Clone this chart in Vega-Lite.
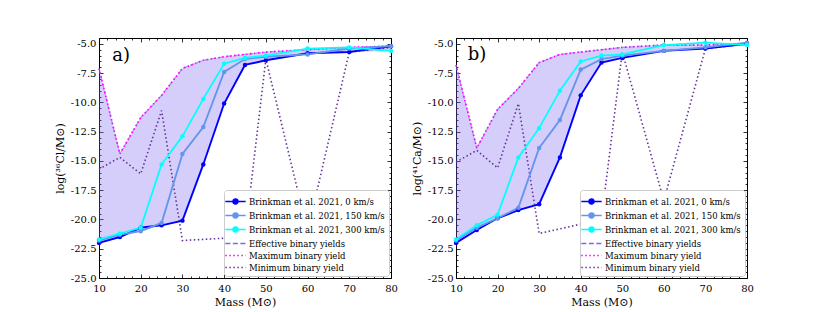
{
  "$schema": "https://vega.github.io/schema/vega-lite/v6.json",
  "background": "white",
  "padding": {"left": 53, "top": 37, "right": 5, "bottom": 5},
  "spacing": 12,
  "config": {
    "view": {"stroke": "black", "strokeWidth": 1},
    "axis": {"labelFont": "DejaVu Serif", "titleFont": "DejaVu Serif", "labelColor": "black", "titleColor": "black", "labelFontSize": 10, "titleFontSize": 11, "titleFontWeight": "normal", "grid": false, "domain": false, "tickColor": "black", "tickWidth": 0.8, "labelFlush": false, "labelOverlap": false},
    "legend": {"orient": "bottom-right", "offset": 2, "labelFont": "DejaVu Serif", "labelFontSize": 8.5, "labelColor": "black", "fillColor": "white", "strokeColor": "#cccccc", "cornerRadius": 3, "padding": 4, "symbolSize": 161, "symbolStrokeWidth": 1.5, "labelOffset": 6, "rowPadding": 0, "title": null}
  },
  "datasets": {
    "lines": [
      {"p":"a","s":"r0","m":10,"v":-22.0},{"p":"a","s":"r0","m":15,"v":-21.5},{"p":"a","s":"r0","m":20,"v":-20.7},{"p":"a","s":"r0","m":25,"v":-20.5},{"p":"a","s":"r0","m":30,"v":-20.1},{"p":"a","s":"r0","m":35,"v":-15.3},{"p":"a","s":"r0","m":40,"v":-10.1},{"p":"a","s":"r0","m":45,"v":-6.8},{"p":"a","s":"r0","m":50,"v":-6.4},{"p":"a","s":"r0","m":60,"v":-5.8},{"p":"a","s":"r0","m":70,"v":-5.7},{"p":"a","s":"r0","m":80,"v":-5.2},
      {"p":"a","s":"r150","m":10,"v":-21.8},{"p":"a","s":"r150","m":15,"v":-21.3},{"p":"a","s":"r150","m":20,"v":-21.0},{"p":"a","s":"r150","m":25,"v":-20.3},{"p":"a","s":"r150","m":30,"v":-14.4},{"p":"a","s":"r150","m":35,"v":-12.1},{"p":"a","s":"r150","m":40,"v":-7.4},{"p":"a","s":"r150","m":45,"v":-6.3},{"p":"a","s":"r150","m":50,"v":-6.1},{"p":"a","s":"r150","m":60,"v":-5.9},{"p":"a","s":"r150","m":70,"v":-5.4},{"p":"a","s":"r150","m":80,"v":-5.2},
      {"p":"a","s":"r300","m":10,"v":-21.7},{"p":"a","s":"r300","m":15,"v":-21.2},{"p":"a","s":"r300","m":20,"v":-20.7},{"p":"a","s":"r300","m":25,"v":-15.3},{"p":"a","s":"r300","m":30,"v":-12.9},{"p":"a","s":"r300","m":35,"v":-9.7},{"p":"a","s":"r300","m":40,"v":-6.7},{"p":"a","s":"r300","m":45,"v":-6.2},{"p":"a","s":"r300","m":50,"v":-6.0},{"p":"a","s":"r300","m":60,"v":-5.4},{"p":"a","s":"r300","m":70,"v":-5.3},{"p":"a","s":"r300","m":80,"v":-5.6},
      {"p":"a","s":"eff","m":10,"v":-7.1},{"p":"a","s":"eff","m":15,"v":-14.4},{"p":"a","s":"eff","m":20,"v":-11.3},{"p":"a","s":"eff","m":25,"v":-9.4},{"p":"a","s":"eff","m":30,"v":-7.1},{"p":"a","s":"eff","m":35,"v":-6.4},{"p":"a","s":"eff","m":40,"v":-6.1},{"p":"a","s":"eff","m":45,"v":-5.9},{"p":"a","s":"eff","m":50,"v":-5.7},{"p":"a","s":"eff","m":60,"v":-5.5},{"p":"a","s":"eff","m":70,"v":-5.3},{"p":"a","s":"eff","m":80,"v":-5.2},
      {"p":"a","s":"max","m":10,"v":-7.1},{"p":"a","s":"max","m":15,"v":-14.4},{"p":"a","s":"max","m":20,"v":-11.3},{"p":"a","s":"max","m":25,"v":-9.4},{"p":"a","s":"max","m":30,"v":-7.1},{"p":"a","s":"max","m":35,"v":-6.4},{"p":"a","s":"max","m":40,"v":-6.1},{"p":"a","s":"max","m":45,"v":-5.9},{"p":"a","s":"max","m":50,"v":-5.7},{"p":"a","s":"max","m":60,"v":-5.5},{"p":"a","s":"max","m":70,"v":-5.3},{"p":"a","s":"max","m":80,"v":-5.2},
      {"p":"a","s":"min","m":10,"v":-15.7},{"p":"a","s":"min","m":15,"v":-14.7},{"p":"a","s":"min","m":20,"v":-16.1},{"p":"a","s":"min","m":25,"v":-10.7},{"p":"a","s":"min","m":30,"v":-21.8},{"p":"a","s":"min","m":35,"v":-21.7},{"p":"a","s":"min","m":40,"v":-21.6},{"p":"a","s":"min","m":45,"v":-21.4},{"p":"a","s":"min","m":50,"v":-6.3},{"p":"a","s":"min","m":60,"v":-21.0},{"p":"a","s":"min","m":70,"v":-5.7},{"p":"a","s":"min","m":80,"v":-5.3},
      {"p":"b","s":"r0","m":10,"v":-22.0},{"p":"b","s":"r0","m":15,"v":-20.9},{"p":"b","s":"r0","m":20,"v":-19.9},{"p":"b","s":"r0","m":25,"v":-19.2},{"p":"b","s":"r0","m":30,"v":-18.7},{"p":"b","s":"r0","m":35,"v":-14.7},{"p":"b","s":"r0","m":40,"v":-9.4},{"p":"b","s":"r0","m":45,"v":-6.6},{"p":"b","s":"r0","m":50,"v":-6.2},{"p":"b","s":"r0","m":60,"v":-5.6},{"p":"b","s":"r0","m":70,"v":-5.4},{"p":"b","s":"r0","m":80,"v":-5.0},
      {"p":"b","s":"r150","m":10,"v":-21.8},{"p":"b","s":"r150","m":15,"v":-20.7},{"p":"b","s":"r150","m":20,"v":-19.9},{"p":"b","s":"r150","m":25,"v":-19.0},{"p":"b","s":"r150","m":30,"v":-13.9},{"p":"b","s":"r150","m":35,"v":-11.5},{"p":"b","s":"r150","m":40,"v":-7.2},{"p":"b","s":"r150","m":45,"v":-6.3},{"p":"b","s":"r150","m":50,"v":-6.0},{"p":"b","s":"r150","m":60,"v":-5.6},{"p":"b","s":"r150","m":70,"v":-5.3},{"p":"b","s":"r150","m":80,"v":-4.9},
      {"p":"b","s":"r300","m":10,"v":-21.7},{"p":"b","s":"r300","m":15,"v":-20.5},{"p":"b","s":"r300","m":20,"v":-19.6},{"p":"b","s":"r300","m":25,"v":-14.7},{"p":"b","s":"r300","m":30,"v":-12.2},{"p":"b","s":"r300","m":35,"v":-9.0},{"p":"b","s":"r300","m":40,"v":-6.5},{"p":"b","s":"r300","m":45,"v":-6.0},{"p":"b","s":"r300","m":50,"v":-5.9},{"p":"b","s":"r300","m":60,"v":-5.1},{"p":"b","s":"r300","m":70,"v":-4.9},{"p":"b","s":"r300","m":80,"v":-5.1},
      {"p":"b","s":"eff","m":10,"v":-6.8},{"p":"b","s":"eff","m":15,"v":-13.9},{"p":"b","s":"eff","m":20,"v":-10.6},{"p":"b","s":"eff","m":25,"v":-8.8},{"p":"b","s":"eff","m":30,"v":-6.6},{"p":"b","s":"eff","m":35,"v":-5.9},{"p":"b","s":"eff","m":40,"v":-5.7},{"p":"b","s":"eff","m":45,"v":-5.5},{"p":"b","s":"eff","m":50,"v":-5.3},{"p":"b","s":"eff","m":60,"v":-5.1},{"p":"b","s":"eff","m":70,"v":-5.1},{"p":"b","s":"eff","m":80,"v":-5.0},
      {"p":"b","s":"max","m":10,"v":-6.8},{"p":"b","s":"max","m":15,"v":-13.9},{"p":"b","s":"max","m":20,"v":-10.6},{"p":"b","s":"max","m":25,"v":-8.8},{"p":"b","s":"max","m":30,"v":-6.6},{"p":"b","s":"max","m":35,"v":-5.9},{"p":"b","s":"max","m":40,"v":-5.7},{"p":"b","s":"max","m":45,"v":-5.5},{"p":"b","s":"max","m":50,"v":-5.3},{"p":"b","s":"max","m":60,"v":-5.1},{"p":"b","s":"max","m":70,"v":-5.1},{"p":"b","s":"max","m":80,"v":-5.0},
      {"p":"b","s":"min","m":10,"v":-15.1},{"p":"b","s":"min","m":15,"v":-14.1},{"p":"b","s":"min","m":20,"v":-15.6},{"p":"b","s":"min","m":25,"v":-10.1},{"p":"b","s":"min","m":30,"v":-21.2},{"p":"b","s":"min","m":35,"v":-20.8},{"p":"b","s":"min","m":40,"v":-20.4},{"p":"b","s":"min","m":45,"v":-19.9},{"p":"b","s":"min","m":50,"v":-5.7},{"p":"b","s":"min","m":60,"v":-18.4},{"p":"b","s":"min","m":70,"v":-5.4},{"p":"b","s":"min","m":80,"v":-5.0}
    ],
    "band": [
      {"p":"a","m":10,"lo":-22.0,"hi":-7.1},{"p":"a","m":15,"lo":-21.5,"hi":-14.4},{"p":"a","m":20,"lo":-21.0,"hi":-11.3},{"p":"a","m":25,"lo":-20.5,"hi":-9.4},{"p":"a","m":30,"lo":-20.1,"hi":-7.1},{"p":"a","m":35,"lo":-15.3,"hi":-6.4},{"p":"a","m":40,"lo":-10.1,"hi":-6.1},{"p":"a","m":45,"lo":-6.8,"hi":-5.9},{"p":"a","m":50,"lo":-6.4,"hi":-5.7},{"p":"a","m":60,"lo":-5.9,"hi":-5.5},{"p":"a","m":70,"lo":-5.7,"hi":-5.3},{"p":"a","m":80,"lo":-5.6,"hi":-5.2},
      {"p":"b","m":10,"lo":-22.0,"hi":-6.8},{"p":"b","m":15,"lo":-20.9,"hi":-13.9},{"p":"b","m":20,"lo":-19.9,"hi":-10.6},{"p":"b","m":25,"lo":-19.2,"hi":-8.8},{"p":"b","m":30,"lo":-18.7,"hi":-6.6},{"p":"b","m":35,"lo":-14.7,"hi":-5.9},{"p":"b","m":40,"lo":-9.4,"hi":-5.7},{"p":"b","m":45,"lo":-6.6,"hi":-5.5},{"p":"b","m":50,"lo":-6.2,"hi":-5.3},{"p":"b","m":60,"lo":-5.6,"hi":-5.1},{"p":"b","m":70,"lo":-5.4,"hi":-5.1},{"p":"b","m":80,"lo":-5.1,"hi":-5.0}
    ]
  },
  "resolve": {"scale": {"color": "independent"}, "legend": {"color": "independent"}},
  "hconcat": [
    {
      "width": 292, "height": 240,
      "resolve": {"axis": {"x": "independent", "y": "independent"}},
      "layer": [
        {
          "data": {"name": "band"},
          "transform": [{"filter": "datum.p === 'a'"}],
          "mark": {"type": "area", "color": "#7b68ee", "opacity": 0.32},
          "encoding": {
            "x": {"field": "m", "type": "quantitative", "scale": {"domain": [10, 80], "nice": false, "zero": false}, "axis": {"orient": "bottom", "title": "Mass (M⊙)", "values": [10,20,30,40,50,60,70,80], "ticks": false, "labelPadding": 5, "titlePadding": 3}},
            "y": {"field": "hi", "type": "quantitative", "scale": {"domain": [-25, -4.5], "nice": false, "zero": false}, "axis": {"orient": "left", "title": "log(³⁶Cl/M⊙)", "values": [-25,-22.5,-20,-17.5,-15,-12.5,-10,-7.5,-5], "ticks": false, "labelPadding": 3, "titlePadding": 5, "labelExpr": "replace(format(datum.value, '.1f'), '−', '-')"}},
            "y2": {"field": "lo"}
          }
        },
        {
          "data": {"name": "lines"},
          "transform": [{"filter": "datum.p === 'a' && datum.s === 'eff'"}],
          "mark": {"type": "line", "strokeDash": [5, 2.5], "strokeWidth": 1.3, "opacity": 0.6},
          "encoding": {
            "x": {"field": "m", "type": "quantitative", "scale": {"domain": [10, 80], "nice": false, "zero": false}, "axis": null},
            "y": {"field": "v", "type": "quantitative", "scale": {"domain": [-25, -4.5], "nice": false, "zero": false}, "axis": null},
            "color": {"field": "s", "type": "nominal"}
          }
        },
        {
          "data": {"name": "lines"},
          "transform": [{"filter": "datum.p === 'a'"}, {"filter": {"field": "s", "oneOf": ["max", "min"]}}],
          "mark": {"type": "line", "strokeDash": [1.5, 2.5]},
          "encoding": {
            "x": {"field": "m", "type": "quantitative", "scale": {"domain": [10, 80], "nice": false, "zero": false}, "axis": {"orient": "bottom", "title": null, "labels": false, "values": [10,20,30,40,50,60,70,80], "tickSize": -4}},
            "y": {"field": "v", "type": "quantitative", "scale": {"domain": [-25, -4.5], "nice": false, "zero": false}, "axis": {"orient": "left", "title": null, "labels": false, "values": [-25,-22.5,-20,-17.5,-15,-12.5,-10,-7.5,-5], "tickSize": -4}},
            "color": {"field": "s", "type": "nominal", "scale": {"domain": ["r0","r150","r300","eff","max","min"], "range": ["#0000ff","#6495ed","#00ffff","#7b68ee","#ff00ff","#663399"]},
              "legend": {"orient": "bottom-right", "title": null, "labelFont": "DejaVu Serif", "labelFontSize": 8.5,
                "labelExpr": "datum.value === 'r0' ? 'Brinkman et al. 2021, 0 km/s' : datum.value === 'r150' ? 'Brinkman et al. 2021, 150 km/s' : datum.value === 'r300' ? 'Brinkman et al. 2021, 300 km/s' : datum.value === 'eff' ? 'Effective binary yields' : datum.value === 'max' ? 'Maximum binary yield' : 'Minimum binary yield'",
                "encode": {"symbols": {"update": {
                  "shape": {"signal": "(datum.value === 'r0' || datum.value === 'r150' || datum.value === 'r300') ? 'M-1.6,0L1.6,0M-0.4,0A0.4,0.4,0,1,1,0.4,0A0.4,0.4,0,1,1,-0.4,0' : 'M-1.6,0L1.6,0'"},
                  "fill": {"signal": "datum.value === 'r0' ? '#0000ff' : datum.value === 'r150' ? '#6495ed' : datum.value === 'r300' ? '#00ffff' : 'transparent'"},
                  "strokeDash": {"signal": "datum.value === 'eff' ? [5, 2.5] : (datum.value === 'max' || datum.value === 'min') ? [1.5, 2.5] : [1, 0]"},
                  "opacity": {"value": 1}
                }}}}},
            "strokeWidth": {"field": "s", "type": "nominal", "scale": {"domain": ["r0","r150","r300","eff","max","min"], "range": [1.9,1.6,1.6,1.2,2,1.5]}, "legend": null}
          }
        },
        {
          "data": {"name": "lines"},
          "transform": [{"filter": "datum.p === 'a'"}, {"filter": {"field": "s", "oneOf": ["r0", "r150", "r300"]}}],
          "mark": {"type": "line"},
          "encoding": {
            "x": {"field": "m", "type": "quantitative", "scale": {"domain": [10, 80], "nice": false, "zero": false}, "axis": {"orient": "top", "title": null, "labels": false, "values": [10,20,30,40,50,60,70,80], "tickSize": -4}},
            "y": {"field": "v", "type": "quantitative", "scale": {"domain": [-25, -4.5], "nice": false, "zero": false}, "axis": {"orient": "right", "title": null, "labels": false, "values": [-25,-22.5,-20,-17.5,-15,-12.5,-10,-7.5,-5], "tickSize": -4}},
            "color": {"field": "s", "type": "nominal"},
            "strokeWidth": {"field": "s", "type": "nominal", "legend": null}
          }
        },
        {
          "data": {"name": "lines"},
          "transform": [{"filter": "datum.p === 'a'"}, {"filter": {"field": "s", "oneOf": ["r0", "r150", "r300"]}}],
          "mark": {"type": "point", "filled": true, "size": 20, "opacity": 1},
          "encoding": {
            "x": {"field": "m", "type": "quantitative", "scale": {"domain": [10, 80], "nice": false, "zero": false}, "axis": {"orient": "bottom", "title": null, "labels": false, "values": [12,14,16,18,22,24,26,28,32,34,36,38,42,44,46,48,52,54,56,58,62,64,66,68,72,74,76,78], "tickSize": -2}},
            "y": {"field": "v", "type": "quantitative", "scale": {"domain": [-25, -4.5], "nice": false, "zero": false}, "axis": {"orient": "left", "title": null, "labels": false, "values": [-24.5,-24,-23.5,-23,-22,-21.5,-21,-20.5,-19.5,-19,-18.5,-18,-17,-16.5,-16,-15.5,-14.5,-14,-13.5,-13,-12,-11.5,-11,-10.5,-9.5,-9,-8.5,-8,-7,-6.5,-6,-5.5,-4.5], "tickSize": -2}},
            "color": {"field": "s", "type": "nominal"}
          }
        },
        {
          "data": {"values": [{}]},
          "mark": {"type": "text", "text": "a)", "font": "DejaVu Serif", "fontSize": 18, "align": "left", "baseline": "middle", "color": "black"},
          "encoding": {
            "x": {"datum": 13.2, "type": "quantitative", "scale": {"domain": [10, 80], "nice": false, "zero": false}, "axis": {"orient": "top", "title": null, "labels": false, "values": [12,14,16,18,22,24,26,28,32,34,36,38,42,44,46,48,52,54,56,58,62,64,66,68,72,74,76,78], "tickSize": -2}},
            "y": {"datum": -6.05, "type": "quantitative", "scale": {"domain": [-25, -4.5], "nice": false, "zero": false}, "axis": {"orient": "right", "title": null, "labels": false, "values": [-24.5,-24,-23.5,-23,-22,-21.5,-21,-20.5,-19.5,-19,-18.5,-18,-17,-16.5,-16,-15.5,-14.5,-14,-13.5,-13,-12,-11.5,-11,-10.5,-9.5,-9,-8.5,-8,-7,-6.5,-6,-5.5,-4.5], "tickSize": -2}}
          }
        }
      ]
    },
    {
      "width": 291, "height": 240,
      "resolve": {"axis": {"x": "independent", "y": "independent"}},
      "layer": [
        {
          "data": {"name": "band"},
          "transform": [{"filter": "datum.p === 'b'"}],
          "mark": {"type": "area", "color": "#7b68ee", "opacity": 0.32},
          "encoding": {
            "x": {"field": "m", "type": "quantitative", "scale": {"domain": [10, 80], "nice": false, "zero": false}, "axis": {"orient": "bottom", "title": "Mass (M⊙)", "values": [10,20,30,40,50,60,70,80], "ticks": false, "labelPadding": 5, "titlePadding": 3}},
            "y": {"field": "hi", "type": "quantitative", "scale": {"domain": [-25, -4.5], "nice": false, "zero": false}, "axis": {"orient": "left", "title": "log(⁴¹Ca/M⊙)", "values": [-25,-22.5,-20,-17.5,-15,-12.5,-10,-7.5,-5], "ticks": false, "labelPadding": 3, "titlePadding": 5, "labelExpr": "replace(format(datum.value, '.1f'), '−', '-')"}},
            "y2": {"field": "lo"}
          }
        },
        {
          "data": {"name": "lines"},
          "transform": [{"filter": "datum.p === 'b' && datum.s === 'eff'"}],
          "mark": {"type": "line", "strokeDash": [5, 2.5], "strokeWidth": 1.3, "opacity": 0.6},
          "encoding": {
            "x": {"field": "m", "type": "quantitative", "scale": {"domain": [10, 80], "nice": false, "zero": false}, "axis": null},
            "y": {"field": "v", "type": "quantitative", "scale": {"domain": [-25, -4.5], "nice": false, "zero": false}, "axis": null},
            "color": {"field": "s", "type": "nominal"}
          }
        },
        {
          "data": {"name": "lines"},
          "transform": [{"filter": "datum.p === 'b'"}, {"filter": {"field": "s", "oneOf": ["max", "min"]}}],
          "mark": {"type": "line", "strokeDash": [1.5, 2.5]},
          "encoding": {
            "x": {"field": "m", "type": "quantitative", "scale": {"domain": [10, 80], "nice": false, "zero": false}, "axis": {"orient": "bottom", "title": null, "labels": false, "values": [10,20,30,40,50,60,70,80], "tickSize": -4}},
            "y": {"field": "v", "type": "quantitative", "scale": {"domain": [-25, -4.5], "nice": false, "zero": false}, "axis": {"orient": "left", "title": null, "labels": false, "values": [-25,-22.5,-20,-17.5,-15,-12.5,-10,-7.5,-5], "tickSize": -4}},
            "color": {"field": "s", "type": "nominal", "scale": {"domain": ["r0","r150","r300","eff","max","min"], "range": ["#0000ff","#6495ed","#00ffff","#7b68ee","#ff00ff","#663399"]},
              "legend": {"orient": "bottom-right", "title": null, "labelFont": "DejaVu Serif", "labelFontSize": 8.5,
                "labelExpr": "datum.value === 'r0' ? 'Brinkman et al. 2021, 0 km/s' : datum.value === 'r150' ? 'Brinkman et al. 2021, 150 km/s' : datum.value === 'r300' ? 'Brinkman et al. 2021, 300 km/s' : datum.value === 'eff' ? 'Effective binary yields' : datum.value === 'max' ? 'Maximum binary yield' : 'Minimum binary yield'",
                "encode": {"symbols": {"update": {
                  "shape": {"signal": "(datum.value === 'r0' || datum.value === 'r150' || datum.value === 'r300') ? 'M-1.6,0L1.6,0M-0.4,0A0.4,0.4,0,1,1,0.4,0A0.4,0.4,0,1,1,-0.4,0' : 'M-1.6,0L1.6,0'"},
                  "fill": {"signal": "datum.value === 'r0' ? '#0000ff' : datum.value === 'r150' ? '#6495ed' : datum.value === 'r300' ? '#00ffff' : 'transparent'"},
                  "strokeDash": {"signal": "datum.value === 'eff' ? [5, 2.5] : (datum.value === 'max' || datum.value === 'min') ? [1.5, 2.5] : [1, 0]"},
                  "opacity": {"value": 1}
                }}}}},
            "strokeWidth": {"field": "s", "type": "nominal", "scale": {"domain": ["r0","r150","r300","eff","max","min"], "range": [1.9,1.6,1.6,1.2,2,1.5]}, "legend": null}
          }
        },
        {
          "data": {"name": "lines"},
          "transform": [{"filter": "datum.p === 'b'"}, {"filter": {"field": "s", "oneOf": ["r0", "r150", "r300"]}}],
          "mark": {"type": "line"},
          "encoding": {
            "x": {"field": "m", "type": "quantitative", "scale": {"domain": [10, 80], "nice": false, "zero": false}, "axis": {"orient": "top", "title": null, "labels": false, "values": [10,20,30,40,50,60,70,80], "tickSize": -4}},
            "y": {"field": "v", "type": "quantitative", "scale": {"domain": [-25, -4.5], "nice": false, "zero": false}, "axis": {"orient": "right", "title": null, "labels": false, "values": [-25,-22.5,-20,-17.5,-15,-12.5,-10,-7.5,-5], "tickSize": -4}},
            "color": {"field": "s", "type": "nominal"},
            "strokeWidth": {"field": "s", "type": "nominal", "legend": null}
          }
        },
        {
          "data": {"name": "lines"},
          "transform": [{"filter": "datum.p === 'b'"}, {"filter": {"field": "s", "oneOf": ["r0", "r150", "r300"]}}],
          "mark": {"type": "point", "filled": true, "size": 20, "opacity": 1},
          "encoding": {
            "x": {"field": "m", "type": "quantitative", "scale": {"domain": [10, 80], "nice": false, "zero": false}, "axis": {"orient": "bottom", "title": null, "labels": false, "values": [12,14,16,18,22,24,26,28,32,34,36,38,42,44,46,48,52,54,56,58,62,64,66,68,72,74,76,78], "tickSize": -2}},
            "y": {"field": "v", "type": "quantitative", "scale": {"domain": [-25, -4.5], "nice": false, "zero": false}, "axis": {"orient": "left", "title": null, "labels": false, "values": [-24.5,-24,-23.5,-23,-22,-21.5,-21,-20.5,-19.5,-19,-18.5,-18,-17,-16.5,-16,-15.5,-14.5,-14,-13.5,-13,-12,-11.5,-11,-10.5,-9.5,-9,-8.5,-8,-7,-6.5,-6,-5.5,-4.5], "tickSize": -2}},
            "color": {"field": "s", "type": "nominal"}
          }
        },
        {
          "data": {"values": [{}]},
          "mark": {"type": "text", "text": "b)", "font": "DejaVu Serif", "fontSize": 18, "align": "left", "baseline": "middle", "color": "black"},
          "encoding": {
            "x": {"datum": 12.8, "type": "quantitative", "scale": {"domain": [10, 80], "nice": false, "zero": false}, "axis": {"orient": "top", "title": null, "labels": false, "values": [12,14,16,18,22,24,26,28,32,34,36,38,42,44,46,48,52,54,56,58,62,64,66,68,72,74,76,78], "tickSize": -2}},
            "y": {"datum": -5.95, "type": "quantitative", "scale": {"domain": [-25, -4.5], "nice": false, "zero": false}, "axis": {"orient": "right", "title": null, "labels": false, "values": [-24.5,-24,-23.5,-23,-22,-21.5,-21,-20.5,-19.5,-19,-18.5,-18,-17,-16.5,-16,-15.5,-14.5,-14,-13.5,-13,-12,-11.5,-11,-10.5,-9.5,-9,-8.5,-8,-7,-6.5,-6,-5.5,-4.5], "tickSize": -2}}
          }
        }
      ]
    }
  ]
}
